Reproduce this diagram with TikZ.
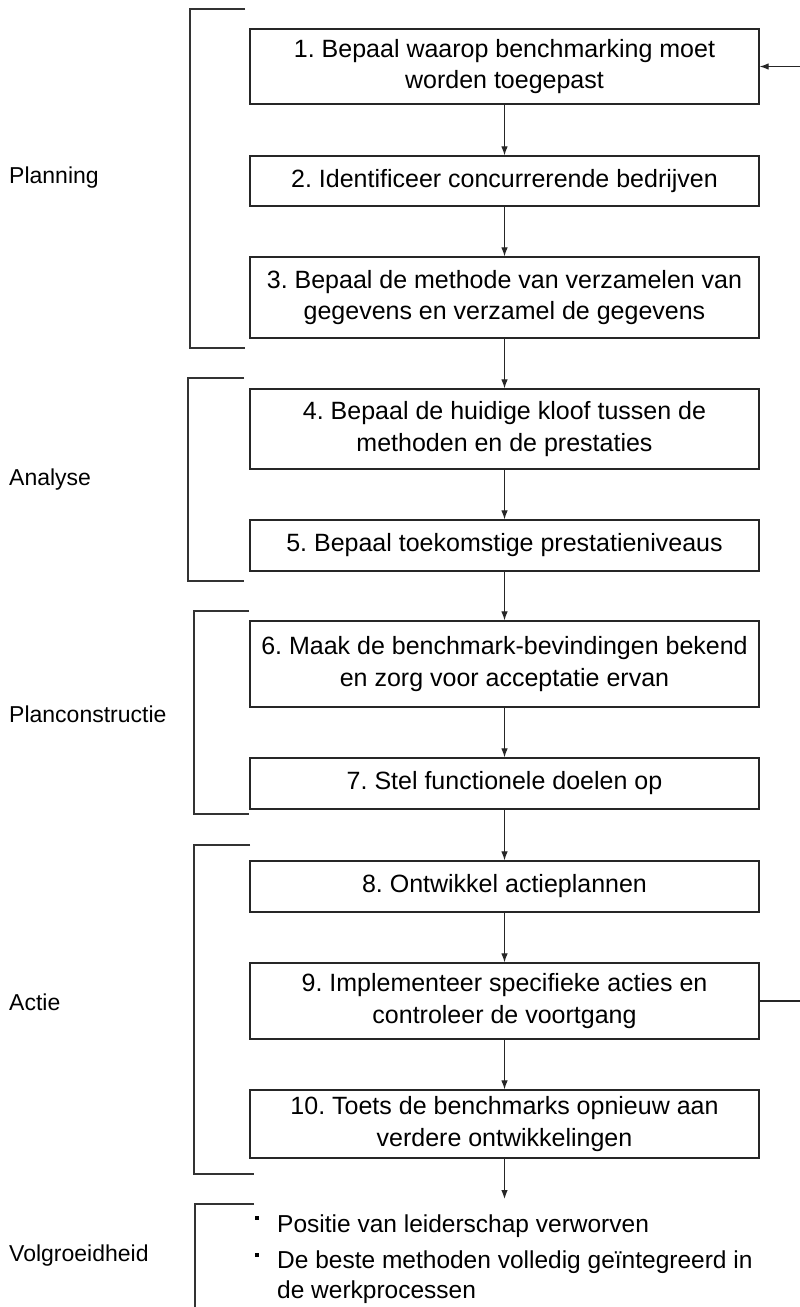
\documentclass[tikz,border=0pt]{standalone}
\usepackage{fontspec}
\setmainfont{Liberation Sans}
\usetikzlibrary{arrows.meta}
\frenchspacing
\begin{document}
\begin{tikzpicture}[x=1pt,y=-1pt,
  stepbox/.style={draw=black!85, line width=1.2pt, minimum width=509pt, align=center, inner sep=0pt, font=\fontsize{25}{31.5}\selectfont},
  bracket/.style={draw=black!80, line width=1.1pt},
  lbl/.style={anchor=west, font=\fontsize{23}{28}\selectfont, inner sep=0pt},
  itemtxt/.style={anchor=base west, font=\fontsize{24.5}{30}\selectfont, inner sep=0pt},
  bullet/.style={fill=black, inner sep=0pt, minimum size=3.5pt},
  flow/.style={draw=black!85, line width=1.1pt, -{Latex[length=9pt,width=6.5pt]}},
  feed/.style={draw=black!85, line width=1.1pt}]
\useasboundingbox (0,0) rectangle (800,1307);
\fill[white] (0,0) rectangle (800,1307);

% steps
\node[stepbox, minimum height=75pt] (b1) at (504.5,66.5) {1. Bepaal waarop benchmarking moet\\worden toegepast};
\node[stepbox, minimum height=50pt] (b2) at (504.5,181) {2. Identificeer concurrerende bedrijven};
\node[stepbox, minimum height=81pt] (b3) at (504.5,297.5) {3. Bepaal de methode van verzamelen van\\gegevens en verzamel de gegevens};
\node[stepbox, minimum height=80pt] (b4) at (504.5,429) {4. Bepaal de huidige kloof tussen de\\methoden en de prestaties};
\node[stepbox, minimum height=51pt] (b5) at (504.5,545.5) {5. Bepaal toekomstige prestatieniveaus};
\node[stepbox, minimum height=86pt] (b6) at (504.5,664) {6. Maak de benchmark-bevindingen bekend\\en zorg voor acceptatie ervan};
\node[stepbox, minimum height=51pt] (b7) at (504.5,783.5) {7. Stel functionele doelen op};
\node[stepbox, minimum height=51pt] (b8) at (504.5,886.5) {8. Ontwikkel actieplannen};
\node[stepbox, minimum height=76pt] (b9) at (504.5,1001) {9. Implementeer specifieke acties en\\controleer de voortgang};
\node[stepbox, minimum height=68pt] (b10) at (504.5,1124) {10. Toets de benchmarks opnieuw aan\\verdere ontwikkelingen};

% flow arrows
\draw[flow] (b1) -- (b2);
\draw[flow] (b2) -- (b3);
\draw[flow] (b3) -- (b4);
\draw[flow] (b4) -- (b5);
\draw[flow] (b5) -- (b6);
\draw[flow] (b6) -- (b7);
\draw[flow] (b7) -- (b8);
\draw[flow] (b8) -- (b9);
\draw[flow] (b9) -- (b10);
\coordinate (endp) at (504.5,1199);
\draw[flow] (b10) -- (endp);

% feedback stubs (loop runs outside the picture)
\coordinate (fbout) at (800,1001);
\coordinate (fbin) at (800,66.5);
\draw[feed] (b9.east) -- (fbout);
\draw[flow] (fbin) -- (b1.east);

% brackets
\draw[bracket] (245,9) -- (190,9) -- (190,348) -- (245,348);
\draw[bracket] (244,378) -- (188,378) -- (188,581) -- (244,581);
\draw[bracket] (249,611) -- (194,611) -- (194,814) -- (249,814);
\draw[bracket] (250,845) -- (194,845) -- (194,1174) -- (254,1174);
\draw[bracket] (254,1204) -- (195,1204) -- (195,1310);

% phase labels
\node[lbl] (lplan) at (9,178) {Planning};
\node[lbl] (lana) at (9,480) {Analyse};
\node[lbl] (lcon) at (9,714) {Planconstructie};
\node[lbl] (lact) at (9,1002) {Actie};
\node[lbl] (lvol) at (9,1256) {Volgroeidheid};

% outcome list
\node[bullet] (bu1) at (257,1218) {};
\node[bullet] (bu2) at (257,1255) {};
\node[itemtxt] (it1) at (277,1232) {Positie van leiderschap verworven};
\node[itemtxt] (it2) at (277,1268) {De beste methoden volledig geïntegreerd in};
\node[itemtxt] (it3) at (277,1298) {de werkprocessen};
\end{tikzpicture}
\end{document}
